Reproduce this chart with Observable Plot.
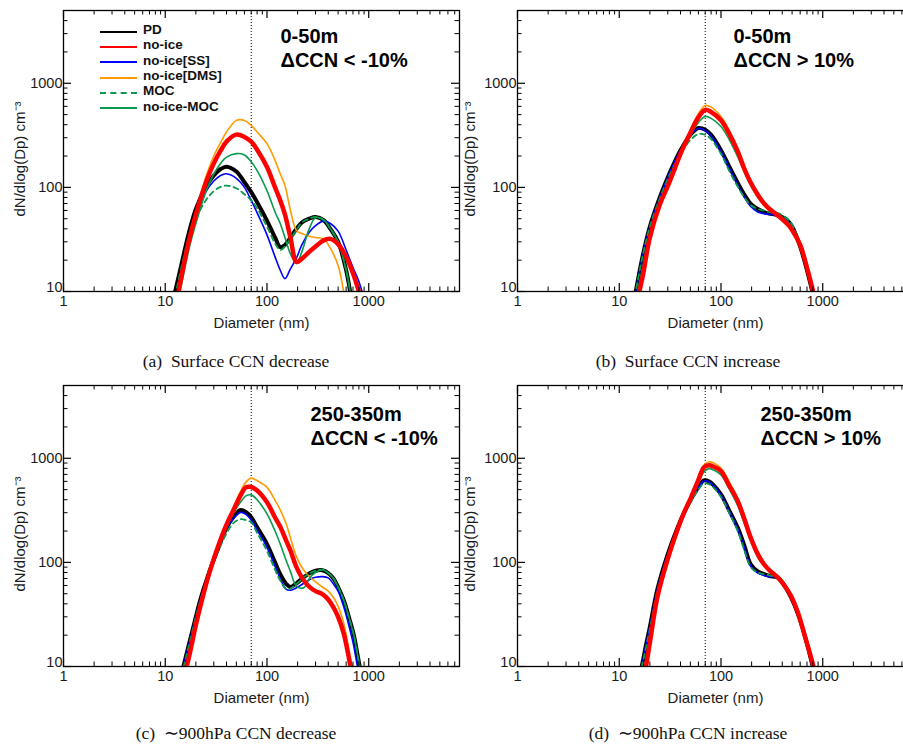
<!DOCTYPE html>
<html><head><meta charset="utf-8">
<script src="https://cdn.jsdelivr.net/npm/d3@7"></script>
<script src="https://cdn.jsdelivr.net/npm/@observablehq/plot@0.6"></script>
<style>
body{margin:0;background:#fff;}
#root{position:relative;width:903px;height:744px;overflow:hidden;background:#fff;font-family:"Liberation Sans",Arial,sans-serif;}
.panel{position:absolute;}
.cap{position:absolute;font-family:"Liberation Serif","Times New Roman",serif;font-size:17.5px;line-height:1;white-space:pre;transform:translate(-50%,-50%);color:#111;}
.legend{position:absolute;left:100px;top:22px;font-weight:bold;font-size:13.5px;color:#111;}
.lrow{display:flex;align-items:center;height:15.3px;}
.swatch{width:37px;margin-right:6px;margin-top:4px;border-top-width:2px;border-top-style:solid;}
</style></head><body><div id="root"></div>
<script>
// ---------- data ----------
const seriesNames = ["PD", "no-ice", "no-ice[SS]", "no-ice[DMS]", "MOC", "no-ice-MOC"];

// (a) Surface CCN decrease
const diamA = [11, 12.5, 14, 17, 20, 25, 30, 35, 40, 50, 60, 70, 80, 100, 120, 135, 150, 170, 195, 220, 260, 300, 360, 420, 500, 600, 700, 800, 900];
const pdA       = [6, 10, 16, 36, 62, 100, 130, 150, 158, 142, 112, 90, 72, 48, 33, 26.7, 28, 33, 40, 46, 50, 52, 48.5, 40, 30, 16, 7, 4, 2.5];
const noiceA    = [4.5, 7, 12, 30, 55, 110, 170, 225, 275, 321, 305, 275, 230, 157, 100, 75, 55, 33, 19.2, 20.6, 24, 27, 31, 32, 28.5, 21.5, 15, 10, 6.5];
const ssA       = [4.5, 7.5, 13, 30, 52, 90, 115, 130, 135, 122, 100, 75, 57, 35, 21.5, 16, 13.3, 16.5, 21, 28, 37, 43, 47.4, 45, 38, 25, 17, 12.5, 8.5];
const dmsA      = [4.5, 7.5, 13, 32, 58, 125, 200, 270, 340, 440, 440, 394, 340, 263, 182, 135, 105, 60, 38.5, 36, 34, 33, 32, 26, 17.8, 7.5, 4, 2.5, 1.5];
const mocA      = [5, 9, 15, 33, 50, 75, 92, 101, 104, 98, 86, 75, 63, 42, 29, 25, 27, 32, 39, 46, 50, 52, 48.5, 40, 30, 16, 7, 4, 2.5];
const noiceMocA = [3.5, 6, 10, 25, 45, 90, 135, 170, 195, 211, 205, 176, 145, 93, 58, 45, 33, 23, 18.6, 24, 40, 51, 49, 40, 30, 16, 7, 4, 2.5];

// (b) Surface CCN increase
const diamB = [13, 14.5, 17, 20, 25, 30, 35, 40, 50, 60, 70, 80, 100, 120, 145, 170, 195, 230, 265, 300, 360, 450, 500, 600, 700, 800, 900];
const pdB       = [6, 10, 22, 42, 80, 125, 175, 227, 320, 372, 358, 320, 228, 160, 112, 85, 70, 62, 58, 56, 54, 48, 42, 27, 16, 9.5, 6];
const noiceB    = [4.5, 7, 14, 33, 68, 103, 150, 210, 335, 470, 555, 530, 441, 330, 225, 150, 112, 85, 70, 62, 54, 44.5, 39, 28, 17, 10.2, 6];
const ssB       = [6, 10, 22, 42, 80, 125, 175, 227, 318, 368, 352, 312, 222, 155, 107, 80, 66, 58, 56, 55, 54, 48, 42, 27, 16, 9.5, 6];
const dmsB      = [4.5, 7, 14, 33, 68, 105, 155, 220, 355, 510, 612, 590, 480, 355, 240, 160, 118, 88, 72, 63, 55, 45, 39, 28, 17, 10.2, 6];
const mocB      = [6, 10, 22, 42, 78, 120, 165, 210, 285, 325, 320, 290, 210, 145, 103, 80, 68, 62, 60, 58, 57, 50, 44, 28, 17, 10, 6];
const noiceMocB = [5, 8, 17, 36, 72, 110, 158, 215, 320, 420, 480, 460, 385, 290, 200, 140, 105, 80, 68, 62, 56, 47, 41, 29, 17.5, 10.5, 6.5];

// (c) ~900hPa CCN decrease
const diamC = [13, 15, 17, 20, 22, 27, 32, 40, 47, 55, 62, 70, 80, 100, 120, 135, 155, 170, 195, 230, 265, 300, 350, 400, 450, 500, 570, 650, 710, 800, 900];
const pdC       = [5.5, 9.8, 16, 30, 43, 80, 125, 215, 275, 318, 305, 271, 217, 150, 100, 77, 62, 58, 63, 72, 79, 83, 84, 79, 70, 58, 43, 28, 20.5, 11, 6];
const noiceC    = [4.5, 7.5, 12, 25, 37, 78, 130, 230, 320, 440, 525, 530, 490, 378, 270, 220, 160, 130, 90, 67, 57.6, 53, 49.5, 44, 37, 30, 20.5, 11, 7, 3.5, 2];
const ssC       = [5.5, 9.8, 16, 30, 43, 80, 125, 210, 265, 302, 290, 255, 205, 140, 92, 70, 55, 54, 57, 63, 69, 72, 73, 71, 62, 53, 37, 23, 16, 8.5, 5.5];
const dmsC      = [4.5, 7.5, 12, 26, 38, 80, 133, 240, 340, 480, 590, 645, 610, 526, 395, 320, 232, 172, 113, 84, 72, 65, 58, 53, 46, 38, 25.5, 13, 8, 4, 2];
const mocC      = [5.5, 9.5, 15.5, 30, 42, 78, 118, 190, 240, 260, 255, 242, 192, 129, 85, 67, 55, 56, 62, 72, 79, 83, 85, 79, 70, 58, 43, 28, 20.5, 11, 6];
const noiceMocC = [4.8, 8, 13, 27, 40, 80, 128, 215, 300, 380, 435, 445, 400, 292, 200, 150, 103, 82, 59, 57, 72, 80, 85, 79, 70, 58, 43, 28, 20.5, 11, 6];

// (d) ~900hPa CCN increase
const diamD = [14, 16.6, 18.3, 20, 23.8, 30, 37.5, 44, 50.7, 60, 68, 76, 85, 100, 120, 146, 170, 196, 230, 265, 300, 360, 420, 488, 570, 660, 800, 900];
const pdD       = [5.5, 10, 16, 24, 56, 120, 216, 310, 404, 530, 612, 600, 550, 451, 318, 216, 144, 96, 82, 77, 74, 71.5, 60, 46, 32, 20.4, 9.8, 5.5];
const noiceD    = [3.5, 6.5, 10, 17, 47, 108, 208, 310, 419, 620, 820, 857, 830, 755, 550, 389, 260, 173, 120, 96, 84, 72, 60, 47.6, 33, 20.4, 10.5, 6];
const ssD       = [5.5, 10, 16, 24, 56, 120, 215, 308, 400, 525, 605, 595, 545, 445, 312, 210, 138, 92, 79, 75, 73, 71.5, 60, 46, 32, 20.4, 9.8, 5.5];
const dmsD      = [3.5, 6.5, 10, 17, 47, 108, 210, 320, 440, 660, 860, 925, 900, 800, 600, 410, 275, 180, 125, 98, 85, 72, 60, 47.6, 33, 20.4, 10.5, 6];
const mocD      = [5.5, 10, 15, 23, 54, 116, 210, 300, 385, 500, 575, 565, 520, 425, 300, 200, 130, 90, 80, 77, 75, 72, 61, 47, 33, 21, 10.2, 6];
const noiceMocD = [4, 7.5, 11, 18, 50, 110, 210, 305, 400, 580, 740, 795, 770, 690, 510, 350, 235, 160, 112, 92, 82, 72, 61, 48, 34, 21, 10.5, 6];

const panelTitles = ["0-50m\nΔCCN < -10%", "0-50m\nΔCCN > 10%", "250-350m\nΔCCN < -10%", "250-350m\nΔCCN > 10%"];
const captions = ["(a)  Surface CCN decrease", "(b)  Surface CCN increase", "(c)  \u223C900hPa CCN decrease", "(d)  \u223C900hPa CCN increase"];
const xLabel = "Diameter (nm)";
const yLabel = "dN/dlog(Dp) cm\u207B\u00B3";
const xMajorTicks = [1, 10, 100, 1000];
const xMinorTicks = [2, 3, 4, 5, 6, 7, 8, 9, 20, 30, 40, 50, 60, 70, 80, 90, 200, 300, 400, 500, 600, 700, 800, 900, 2000, 3000, 4000, 5000, 6000, 7000];
const yMajorTicks = [10, 100, 1000];
const yLowTick = [10];
const yUpperTicks = [100, 1000];
const yMinorTicks = [20, 30, 40, 50, 60, 70, 80, 90, 200, 300, 400, 500, 600, 700, 800, 900, 2000, 3000, 4000];
const dpMarker = [70];

// ---------- styles ----------
const GREEN = "#0a9a4e";
const seriesStyle = [
  {stroke: "#000000", strokeWidth: 4},
  {stroke: "#ff0000", strokeWidth: 4.5},
  {stroke: "#0000ff", strokeWidth: 1.6},
  {stroke: "#ff9a00", strokeWidth: 1.6},
  {stroke: GREEN, strokeWidth: 1.8, strokeDasharray: "5,4"},
  {stroke: GREEN, strokeWidth: 1.6}
];
const drawOrder = [0, 2, 3, 5, 4, 1];
const FW = 396, FH = 281;

const panels = [
  {diam: diamA, vals: [pdA, noiceA, ssA, dmsA, mocA, noiceMocA], left: 0, top: 0, ml: 63, tdx: 217, tdy: 15},
  {diam: diamB, vals: [pdB, noiceB, ssB, dmsB, mocB, noiceMocB], left: 450, top: 0, ml: 67, tdx: 216, tdy: 15},
  {diam: diamC, vals: [pdC, noiceC, ssC, dmsC, mocC, noiceMocC], left: 0, top: 375, ml: 63, tdx: 247, tdy: 18.5},
  {diam: diamD, vals: [pdD, noiceD, ssD, dmsD, mocD, noiceMocD], left: 450, top: 375, ml: 67, tdx: 243, tdy: 18.5}
];
const capPos = [[236, 362], [688, 362], [236, 734], [688, 734]];

const root = document.getElementById("root");

panels.forEach((p, k) => {
  const rows = [];
  p.vals.forEach((arr, si) => arr.forEach((v, i) => rows.push({D: p.diam[i], N: v, s: si})));
  const lines = drawOrder.map(si => Plot.line(rows.filter(r => r.s === si), {
    x: "D", y: "N", curve: "catmull-rom", clip: true, strokeLinejoin: "round", ...seriesStyle[si]
  }));
  const chart = Plot.plot({
    width: p.ml + FW + 12, height: 10 + FH + 44,
    marginLeft: p.ml, marginRight: 12, marginTop: 10, marginBottom: 44,
    x: {type: "log", domain: [1, 7800]},
    y: {type: "log", domain: [10, 5000]},
    style: {background: "transparent", maxWidth: "none", overflow: "visible", fontFamily: "'Liberation Sans', Arial, sans-serif", fontSize: "14.5px", color: "#1a1a1a"},
    marks: [
      Plot.ruleX(dpMarker, {x: d => d, stroke: "#000", strokeWidth: 1, strokeDasharray: "1,2"}),
      ...lines,
      // inward ticks: bottom, top, left, right
      Plot.tickX(xMajorTicks, {x: d => d, insetTop: FH - 8, stroke: "#000", strokeWidth: 1.2}),
      Plot.tickX(xMinorTicks, {x: d => d, insetTop: FH - 4.5, stroke: "#000", strokeWidth: 1}),
      Plot.tickX(xMajorTicks, {x: d => d, insetBottom: FH - 8, stroke: "#000", strokeWidth: 1.2}),
      Plot.tickX(xMinorTicks, {x: d => d, insetBottom: FH - 4.5, stroke: "#000", strokeWidth: 1}),
      Plot.tickY(yMajorTicks, {y: d => d, insetRight: FW - 8, stroke: "#000", strokeWidth: 1.2}),
      Plot.tickY(yMinorTicks, {y: d => d, insetRight: FW - 4.5, stroke: "#000", strokeWidth: 1}),
      Plot.tickY(yMajorTicks, {y: d => d, insetLeft: FW - 8, stroke: "#000", strokeWidth: 1.2}),
      Plot.tickY(yMinorTicks, {y: d => d, insetLeft: FW - 4.5, stroke: "#000", strokeWidth: 1}),
      Plot.frame({stroke: "#000", strokeWidth: 1.3}),
      Plot.axisX(xMajorTicks, {tickSize: 0, tickPadding: 4, tickFormat: d => String(d), fontSize: 14.5, label: null}),
      Plot.axisY(yUpperTicks, {tickSize: 0, tickPadding: 1, tickFormat: d => String(d), fontSize: 14.5, label: null}),
      Plot.axisY(yLowTick, {tickSize: 0, tickPadding: 1, dy: -4, tickFormat: d => String(d), fontSize: 14.5, label: null}),
      Plot.text([xLabel], {text: d => d, frameAnchor: "bottom", dy: 32, lineAnchor: "middle", fontSize: 15}),
      Plot.text([yLabel], {text: d => d, frameAnchor: "left", dx: -p.ml + 20, dy: 8, rotate: -90, lineAnchor: "middle", textAnchor: "middle", fontSize: 15}),
      Plot.text([panelTitles[k]], {text: d => d, frameAnchor: "top-left", dx: p.tdx, dy: p.tdy, lineAnchor: "top", textAnchor: "start", fontSize: 20, fontWeight: "bold", lineHeight: 1.2, fill: "#000"})
    ]
  });
  const div = document.createElement("div");
  div.className = "panel";
  div.style.left = p.left + "px";
  div.style.top = p.top + "px";
  div.appendChild(chart);
  root.appendChild(div);

  const cap = document.createElement("div");
  cap.className = "cap";
  cap.textContent = captions[k];
  cap.style.left = capPos[k][0] + "px";
  cap.style.top = capPos[k][1] + "px";
  root.appendChild(cap);
});

// legend (panel a)
const legend = document.createElement("div");
legend.className = "legend";
seriesNames.forEach((name, i) => {
  const row = document.createElement("div");
  row.className = "lrow";
  const sw = document.createElement("div");
  sw.className = "swatch";
  sw.style.borderTopColor = seriesStyle[i].stroke;
  if (seriesStyle[i].strokeDasharray) sw.style.borderTopStyle = "dashed";
  const t = document.createElement("span");
  t.textContent = name;
  row.appendChild(sw);
  row.appendChild(t);
  legend.appendChild(row);
});
root.appendChild(legend);
</script></body></html>
